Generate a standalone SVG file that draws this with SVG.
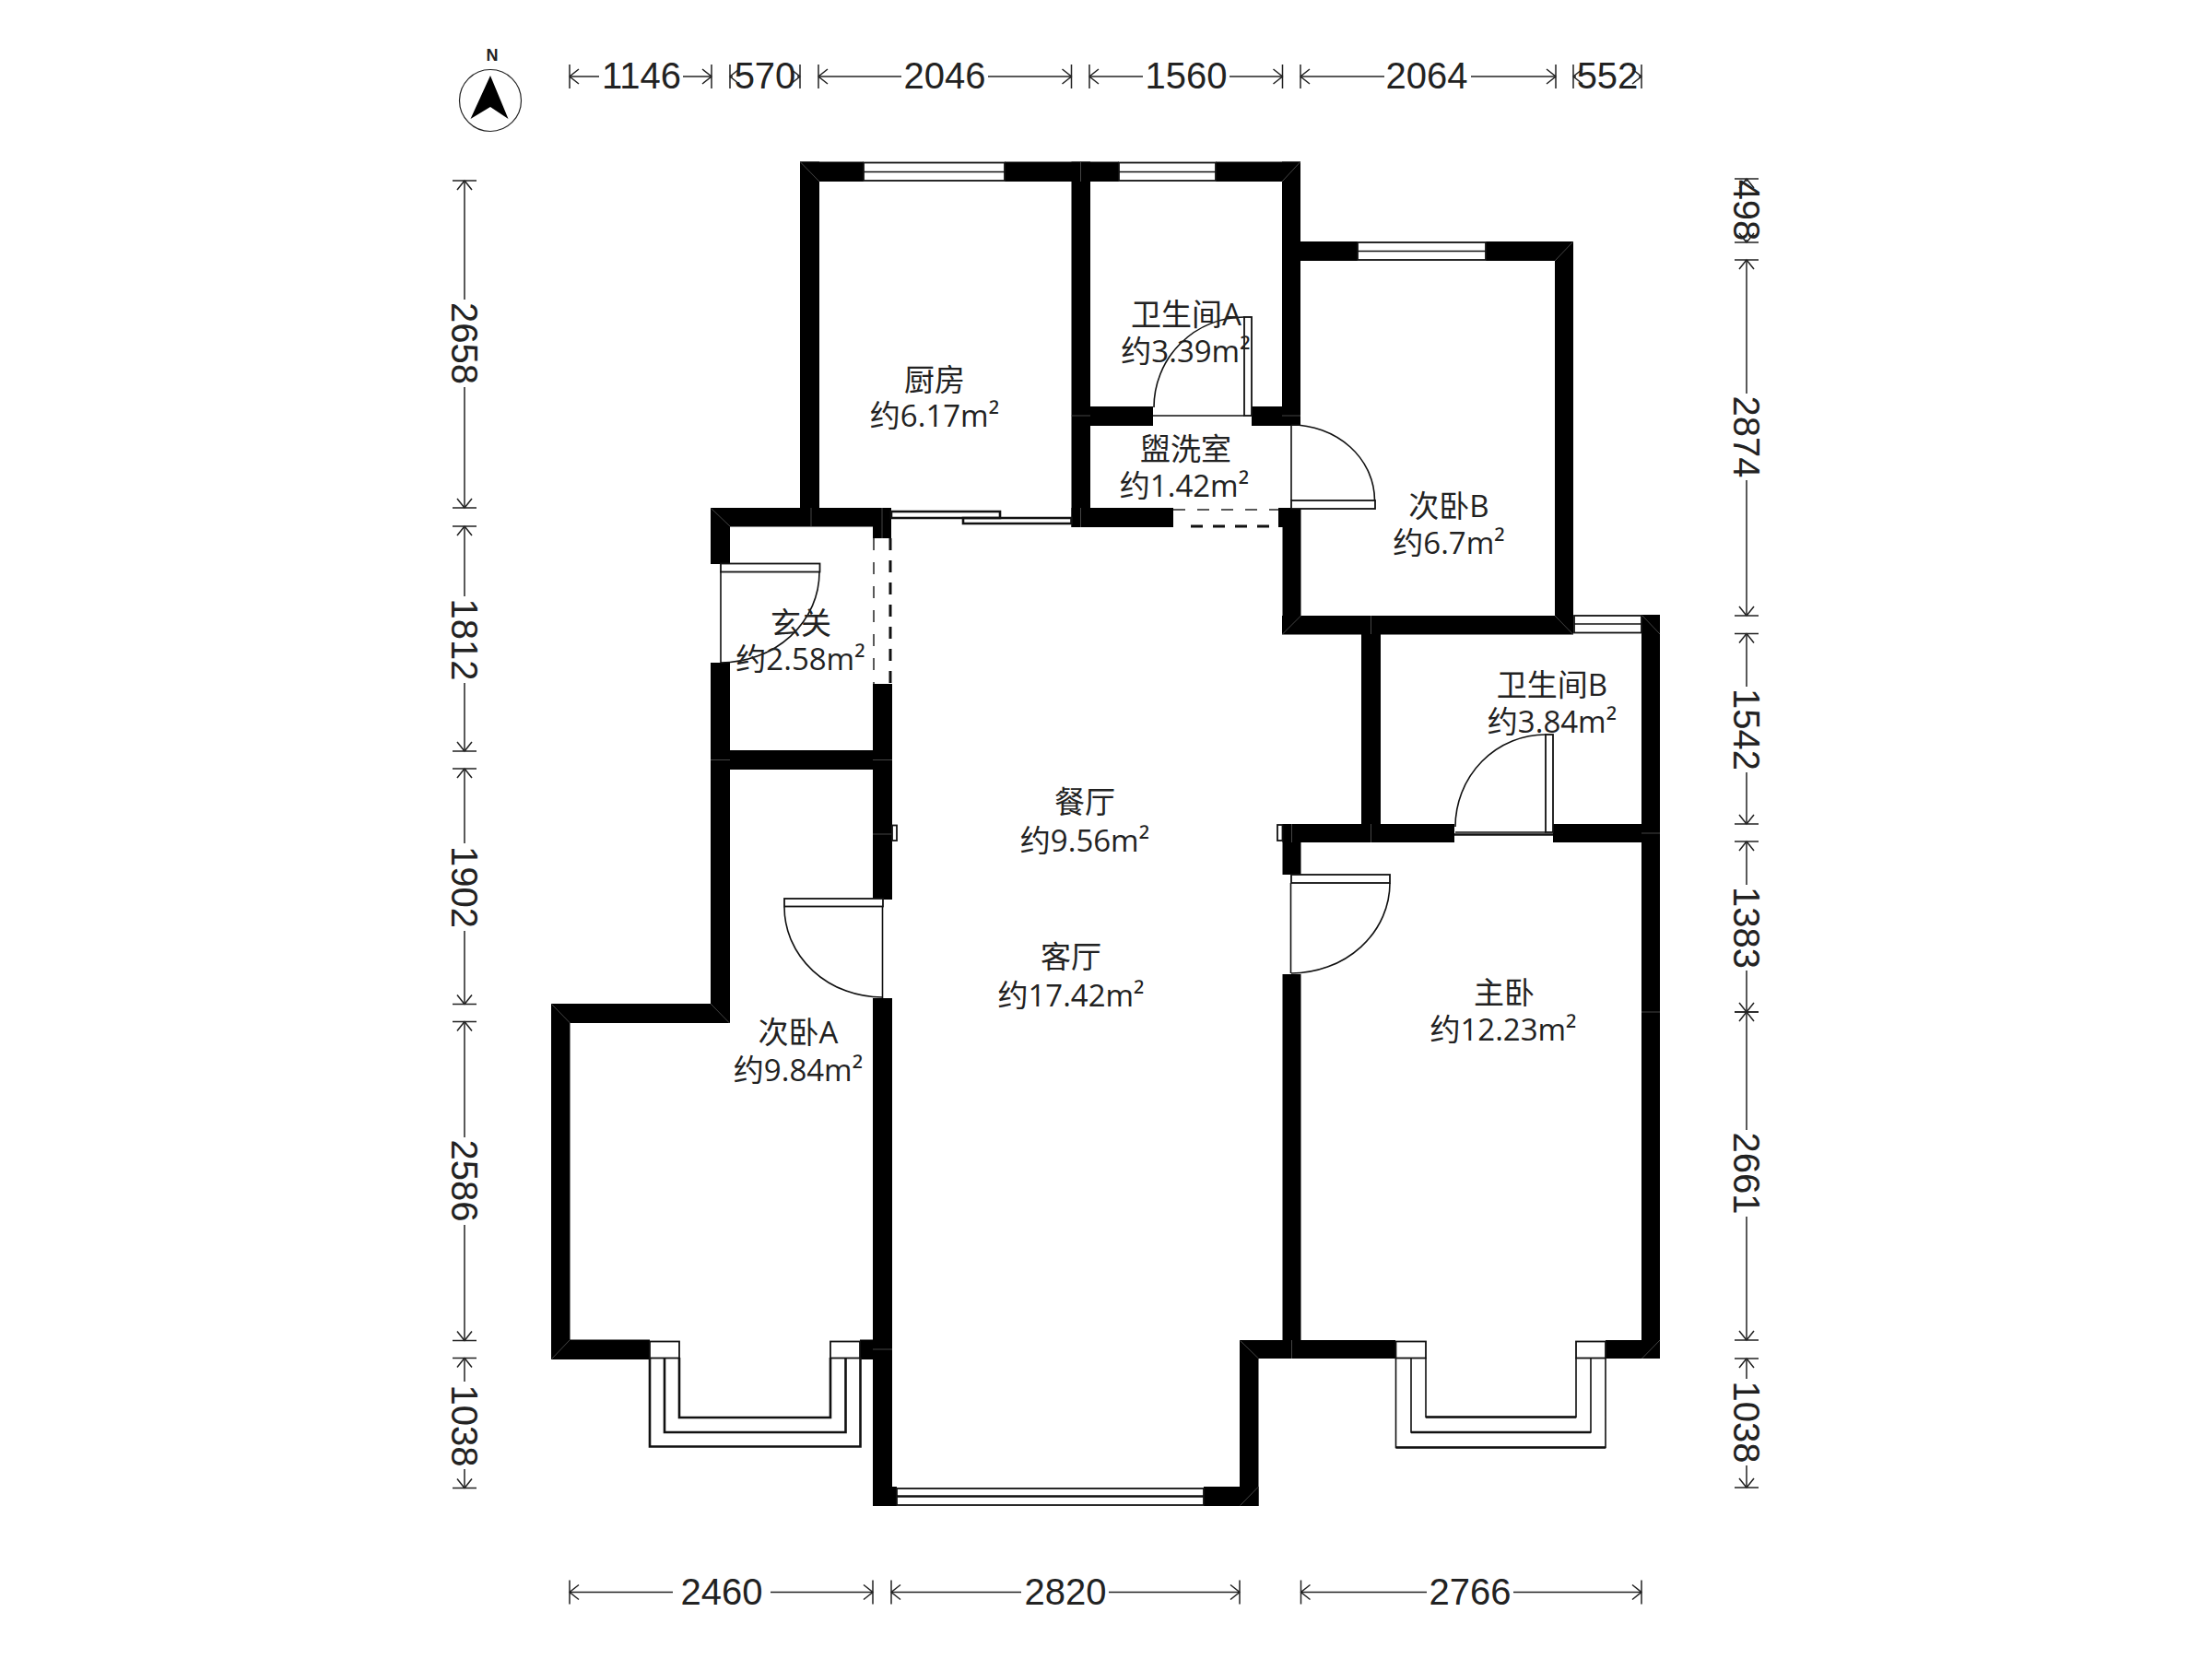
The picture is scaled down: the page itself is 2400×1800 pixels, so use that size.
<svg xmlns="http://www.w3.org/2000/svg" width="2400" height="1800" viewBox="0 0 2400 1800">
<style>
.wall{fill:#000}
.miter{stroke:#444;stroke-width:1;fill:none}
.win{fill:#fff;stroke:#111;stroke-width:1.8}
.line{fill:none;stroke:#111;stroke-width:1.6}
.thick{fill:none;stroke:#111;stroke-width:2.6}
.dashthin{fill:none;stroke:#222;stroke-width:1.5;stroke-dasharray:13 13}
.dashthick{fill:none;stroke:#111;stroke-width:3;stroke-dasharray:13 11}
.dim{fill:none;stroke:#222;stroke-width:1.5;marker-start:url(#tick)}
.dimt{font-family:"Liberation Sans",Arial,sans-serif;font-size:40px;fill:#222;text-anchor:middle;dominant-baseline:central}
.lab{font-family:"Open Sans","Noto Sans CJK SC",sans-serif;font-size:33px;fill:#222;text-anchor:middle}
</style>
<defs>
<marker id="tick" markerUnits="userSpaceOnUse" markerWidth="30" markerHeight="30" refX="2" refY="15" orient="auto" overflow="visible">
<path d="M2 2V28M12 7L2 15L12 23" fill="none" stroke="#222" stroke-width="1.5"/>
</marker>
</defs>
<rect width="2400" height="1800" fill="#fff"/>

<g id="north">
<circle cx="532" cy="109" r="33.5" fill="#fff" stroke="#222" stroke-width="1.2"/>
<path d="M532 82L551.5 129L532 116L510.5 129Z" fill="#000"/>
<text x="534" y="66" font-family="Liberation Sans,sans-serif" font-weight="700" font-size="18" fill="#222" text-anchor="middle">N</text>
</g>

<g id="walls">
<rect class="wall" x="868" y="175.5" width="69" height="21.5"/>
<rect class="wall" x="1090" y="175.5" width="124" height="21.5"/>
<rect class="wall" x="1319" y="175.5" width="92" height="21.5"/>
<rect class="wall" x="868" y="175.5" width="21" height="376"/>
<rect class="wall" x="1162.5" y="175.5" width="20.5" height="396.5"/>
<rect class="wall" x="1391" y="175.5" width="20" height="286"/>
<rect class="wall" x="1183" y="441" width="68" height="21"/>
<rect class="wall" x="1358" y="441" width="53" height="21"/>
<rect class="wall" x="1162.5" y="551" width="110.5" height="21"/>
<rect class="wall" x="1387" y="551" width="24" height="21"/>
<rect class="wall" x="771" y="551" width="196" height="20.5"/>
<rect class="wall" x="947" y="571" width="20" height="13"/>
<rect class="wall" x="771" y="551" width="21" height="61"/>
<rect class="wall" x="771" y="719" width="21" height="391"/>
<rect class="wall" x="792" y="814" width="155" height="21"/>
<rect class="wall" x="947" y="742" width="21" height="234"/>
<rect class="wall" x="947" y="1083" width="21" height="551"/>
<rect class="wall" x="598" y="1089" width="194" height="21"/>
<rect class="wall" x="598" y="1089" width="20.5" height="386"/>
<rect class="wall" x="598" y="1453.5" width="107" height="21.5"/>
<rect class="wall" x="933" y="1453.5" width="14" height="21.5"/>
<rect class="wall" x="947" y="1613" width="26" height="21"/>
<rect class="wall" x="1306" y="1613" width="59.5" height="21"/>
<rect class="wall" x="1345" y="1454" width="20.5" height="180"/>
<rect class="wall" x="1345" y="1454" width="169" height="20"/>
<rect class="wall" x="1391.5" y="551" width="20" height="137"/>
<rect class="wall" x="1391.5" y="894" width="20" height="55"/>
<rect class="wall" x="1391.5" y="1057" width="20" height="417"/>
<rect class="wall" x="1411" y="262" width="62" height="21"/>
<rect class="wall" x="1612" y="262" width="95" height="21"/>
<rect class="wall" x="1687" y="262" width="20" height="426"/>
<rect class="wall" x="1391" y="668" width="316" height="20.5"/>
<rect class="wall" x="1477" y="688" width="21" height="206"/>
<rect class="wall" x="1781" y="667" width="20" height="807"/>
<rect class="wall" x="1391.5" y="894" width="186.5" height="20"/>
<rect class="wall" x="1685" y="894" width="116" height="20"/>
<rect class="wall" x="1742" y="1454" width="59" height="20"/>
<path class="miter" d="M868.5 176L889 197M1172.5 176V197M1410.5 176L1391 197M1706.5 262.5L1687 283M1162.5 451H1183M1172.5 551V572M1391 451H1411M880 551V571M771.5 551.5L792 571M957 551V584M771 824.5H792M947 824.5H968M947 905H968M598.5 1089.5L618.5 1110M791.5 1110L771 1089M598.5 1474.5L618.5 1453.5M947 1464H968M1345.5 1454.5L1365.5 1474M1345.5 1633.5L1365.5 1613M1401.5 1454V1474M1391.5 688L1411.5 668M1487.5 668V688M1706.5 688L1687 668M1781.5 667.5L1801 688M1487.5 894V914M1401.5 894V914M1781 904H1801M1781.5 1474L1801 1454M1781 1098H1801"/>
</g>

<g id="windows">
<rect class="win" x="937" y="176.5" width="153" height="19.5"/><path class="line" d="M937 186.5H1090"/>
<rect class="win" x="1214" y="176.5" width="105" height="19.5"/><path class="line" d="M1214 186.5H1319"/>
<rect class="win" x="1473" y="263" width="139" height="19"/><path class="line" d="M1473 272.5H1612"/>
<rect class="win" x="1708" y="668" width="73" height="18.5"/><path class="line" d="M1708 677H1781"/>
<rect class="win" x="973" y="1615" width="333" height="18"/><path class="thick" d="M973 1623.5H1306"/>
<path id="sliding-door-a" class="thick" d="M967 555H1085V562H967Z"/>
<path id="sliding-door-b" class="thick" d="M1045 562H1162.5V568H1045Z"/>
</g>

<g id="bay-window-a">
<rect class="win" x="705" y="1455.5" width="32" height="18"/>
<rect class="win" x="901" y="1455.5" width="32" height="18"/>
<path class="thick" d="M705 1473V1569.5H933.5V1473M721 1473V1554H917.5V1473M737 1473V1538H901V1473"/>
</g>
<g id="bay-window-b">
<rect class="win" x="1514.5" y="1455.5" width="32.5" height="18"/>
<rect class="win" x="1710" y="1455.5" width="32" height="18"/>
<path class="line" d="M1514.5 1473V1570.5H1742V1473M1531 1473V1554H1726V1473M1547 1473V1537.5H1710V1473"/>
<path class="thick" d="M1514.5 1570.5H1742M1531 1554H1726M1547 1537.5H1710"/>
</g>

<g id="doors">
<g id="door-bath-a"><rect class="win" x="1350" y="344" width="8" height="107"/><path class="line" d="M1251 451H1350M1252 442A98 98 0 0 1 1350 344"/></g>
<g id="door-bedroom-b"><rect class="win" x="1401" y="543" width="91" height="9"/><path class="line" d="M1401 461V543M1401 461A90.5 82 0 0 1 1491.5 543"/></g>
<g id="door-entry"><rect class="win" x="782" y="611.5" width="107.5" height="9"/><path class="line" d="M782 620V719M889 621A107 98 0 0 1 782 719"/></g>
<g id="door-bedroom-a"><rect class="win" x="851" y="975" width="107" height="8.5"/><path class="line" d="M957.5 983V1083M851 984A106 98 0 0 0 957 1082"/></g>
<g id="door-master"><rect class="win" x="1401" y="949" width="107" height="9"/><path class="line" d="M1400.5 958V1056M1508 958A107 98 0 0 1 1401 1056"/></g>
<g id="door-bath-b"><rect class="win" x="1677" y="797" width="8" height="106"/><path class="line" d="M1579 903H1677"/><path class="thick" d="M1578 905.5H1685"/><path class="line" d="M1579 897A98 100 0 0 1 1677 797"/></g>
<rect id="post-a" class="win" x="968" y="895.5" width="5" height="16.5"/>
<rect id="post-b" class="win" x="1386" y="895" width="5.5" height="17"/>
</g>

<g id="openings">
<path class="dashthin" d="M948 584V742M1273 553H1387"/>
<path class="dashthick" d="M966 584V742M1292 571H1387"/>
</g>

<g id="dimensions">
<path class="dim" d="M618 83H650"/><path class="dim" d="M772 83H741"/><text class="dimt" x="696" y="82">1146</text>
<path class="dim" d="M792 83H795"/><path class="dim" d="M868 83H865"/><text class="dimt" x="830" y="82">570</text>
<path class="dim" d="M888 83H978"/><path class="dim" d="M1162.5 83H1072"/><text class="dimt" x="1025" y="82">2046</text>
<path class="dim" d="M1182 83H1240"/><path class="dim" d="M1391.5 83H1334"/><text class="dimt" x="1287" y="82">1560</text>
<path class="dim" d="M1411 83H1502"/><path class="dim" d="M1688 83H1596"/><text class="dimt" x="1548" y="82">2064</text>
<path class="dim" d="M1707 83H1710"/><path class="dim" d="M1781 83H1778"/><text class="dimt" x="1744" y="82">552</text>

<path class="dim" d="M618 1727.5H730"/><path class="dim" d="M947 1727.5H836"/><text class="dimt" x="783" y="1727">2460</text>
<path class="dim" d="M967 1727.5H1108"/><path class="dim" d="M1345 1727.5H1203"/><text class="dimt" x="1156" y="1727">2820</text>
<path class="dim" d="M1411.5 1727.5H1548"/><path class="dim" d="M1781 1727.5H1642"/><text class="dimt" x="1595" y="1727">2766</text>

<path class="dim" d="M504 196V325"/><path class="dim" d="M504 551V420"/><text class="dimt" transform="translate(504 372.5) rotate(90)">2658</text>
<path class="dim" d="M504 571V647"/><path class="dim" d="M504 815V741"/><text class="dimt" transform="translate(504 694) rotate(90)">1812</text>
<path class="dim" d="M504 834V915"/><path class="dim" d="M504 1089.5V1010"/><text class="dimt" transform="translate(504 962.5) rotate(90)">1902</text>
<path class="dim" d="M504 1108.5V1234"/><path class="dim" d="M504 1454.5V1329"/><text class="dimt" transform="translate(504 1281) rotate(90)">2586</text>
<path class="dim" d="M504 1473.5V1499"/><path class="dim" d="M504 1614.5V1594"/><text class="dimt" transform="translate(504 1547) rotate(90)">1038</text>

<path class="dim" d="M1895 194V197"/><path class="dim" d="M1895 263V260"/><text class="dimt" transform="translate(1895 228) rotate(90)">498</text>
<path class="dim" d="M1895 282V427"/><path class="dim" d="M1895 668V521"/><text class="dimt" transform="translate(1895 474) rotate(90)">2874</text>
<path class="dim" d="M1895 687.5V745"/><path class="dim" d="M1895 894V838"/><text class="dimt" transform="translate(1895 791.5) rotate(90)">1542</text>
<path class="dim" d="M1895 913V960"/><path class="dim" d="M1895 1098V1053"/><text class="dimt" transform="translate(1895 1006.5) rotate(90)">1383</text>
<path class="dim" d="M1895 1098V1226"/><path class="dim" d="M1895 1454V1320"/><text class="dimt" transform="translate(1895 1273) rotate(90)">2661</text>
<path class="dim" d="M1895 1474V1496"/><path class="dim" d="M1895 1614V1590"/><text class="dimt" transform="translate(1895 1543) rotate(90)">1038</text>
</g>

<g id="room-kitchen"><text class="lab" x="1014" y="424">厨房</text><text class="lab" x="1014" y="463">约6.17m²</text></g>
<g id="room-bath-a"><text class="lab" x="1287" y="353">卫生间A</text><text class="lab" x="1286.5" y="393">约3.39m²</text></g>
<g id="room-wash"><text class="lab" x="1286.5" y="498.5">盥洗室</text><text class="lab" x="1285" y="538.5">约1.42m²</text></g>
<g id="room-bedroom-b"><text class="lab" x="1572" y="561">次卧B</text><text class="lab" x="1572" y="601">约6.7m²</text></g>
<g id="room-entry"><text class="lab" x="869" y="688">玄关</text><text class="lab" x="868.5" y="727">约2.58m²</text></g>
<g id="room-bedroom-a"><text class="lab" x="866" y="1132">次卧A</text><text class="lab" x="866" y="1173">约9.84m²</text></g>
<g id="room-dining"><text class="lab" x="1177" y="882">餐厅</text><text class="lab" x="1177" y="924">约9.56m²</text></g>
<g id="room-living"><text class="lab" x="1162" y="1050">客厅</text><text class="lab" x="1162" y="1092">约17.42m²</text></g>
<g id="room-master"><text class="lab" x="1632" y="1089">主卧</text><text class="lab" x="1631" y="1129">约12.23m²</text></g>
<g id="room-bath-b"><text class="lab" x="1684" y="755">卫生间B</text><text class="lab" x="1684" y="795">约3.84m²</text></g>
</svg>
